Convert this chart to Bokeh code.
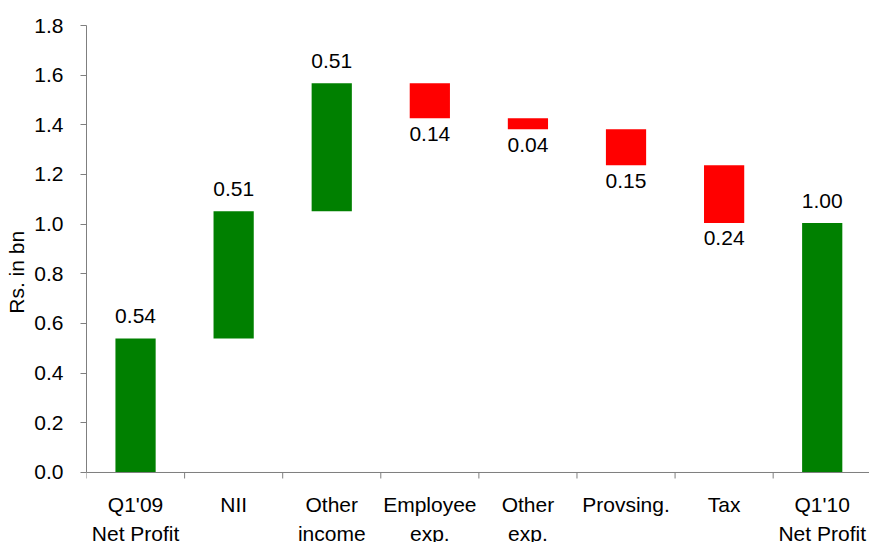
from bokeh.plotting import figure
from bokeh.models import Range1d, FixedTicker, PrintfTickFormatter, ColumnDataSource, LinearAxis
from bokeh.core.properties import value
from bokeh.embed import file_html
from bokeh.resources import INLINE

# ---- data ----
cat_line1 = ["Q1'09", "NII", "Other", "Employee", "Other", "Provsing.", "Tax", "Q1'10"]
cat_line2 = ["Net Profit", "", "income", "exp.", "exp.", "", "", "Net Profit"]
start_value = 0.54
changes = [0.512, 0.515, -0.14, -0.045, -0.145, -0.232]
final_value = 1.005
value_labels = ["0.54", "0.51", "0.51", "0.14", "0.04", "0.15", "0.24", "1.00"]
y_ticks = [0.0, 0.2, 0.4, 0.6, 0.8, 1.0, 1.2, 1.4, 1.6, 1.8]
y_title = "Rs. in bn"

GREEN = "#008000"
RED = "#FF0000"
AXIS = "#7f7f7f"
FONT = "Liberation Sans"
FS = "21px"

# ---- waterfall geometry from data ----
UP_OFF = 0.089     # label centre above a rising bar
DOWN_OFF = 0.062   # label centre below a falling bar
xs, bottoms, tops, colors, lab_y = [], [], [], [], []
xs.append(0.5); bottoms.append(0.0); tops.append(start_value); colors.append(GREEN)
lab_y.append(start_value + UP_OFF)
run = start_value
for i, c in enumerate(changes):
    nb, nt = (run, run + c) if c >= 0 else (run + c, run)
    xs.append(i + 1.5); bottoms.append(nb); tops.append(nt)
    if c >= 0:
        colors.append(GREEN); lab_y.append(nt + UP_OFF)
    else:
        colors.append(RED); lab_y.append(nb - DOWN_OFF)
    run += c
xs.append(len(changes) + 1.5); bottoms.append(0.0); tops.append(final_value); colors.append(GREEN)
lab_y.append(final_value + UP_OFF)

src = ColumnDataSource(dict(x=xs, bottom=bottoms, top=tops, color=colors,
                            ly=lab_y, lab=value_labels))

n = len(cat_line1)
cat_src = ColumnDataSource(dict(x=[i + 0.5 for i in range(n)], l1=cat_line1, l2=cat_line2,
                                y1=[-0.129] * n, y2=[-0.2437] * n))
tick_src = ColumnDataSource(dict(x=list(range(n + 1)), y0=[0.0] * (n + 1),
                                 y1=[-6 / 248.3] * (n + 1)))

p = figure(width=869, height=542, output_backend="svg", toolbar_location=None,
           x_range=Range1d(0, 7.982), y_range=Range1d(-0.2819, 1.8),
           x_axis_location=None,
           min_border_left=86, min_border_right=0, min_border_top=25, min_border_bottom=0)
p.outline_line_color = None
p.xgrid.visible = False
p.ygrid.visible = False
p.background_fill_color = "white"
p.border_fill_color = "white"

p.vbar(x="x", width=0.41, bottom="bottom", top="top", fill_color="color",
       line_color=None, source=src)
p.text(x="x", y="ly", text="lab", source=src, text_align="center",
       text_baseline="middle", text_font=value(FONT), text_font_size=FS,
       text_color="#000000")

# x axis line and boundary tick marks
p.segment(x0=0, y0=0, x1=n, y1=0, line_color=AXIS, line_width=1)
p.segment(x0="x", y0="y0", x1="x", y1="y1", source=tick_src, line_color=AXIS, line_width=1)

# category labels (two lines)
for col_t, col_y in (("l1", "y1"), ("l2", "y2")):
    p.text(x="x", y=col_y, text=col_t, source=cat_src, text_align="center",
           text_baseline="middle", text_font=value(FONT), text_font_size=FS,
           text_color="#000000")

# y axis
ya = p.yaxis[0]
ya.bounds = (0, 1.8)
ya.ticker = FixedTicker(ticks=y_ticks)
ya.formatter = PrintfTickFormatter(format="%.1f")
ya.axis_line_color = AXIS
ya.major_tick_line_color = AXIS
ya.major_tick_out = 6
ya.major_tick_in = 0
ya.minor_tick_line_color = None
ya.major_label_text_font = FONT
ya.major_label_text_font_size = FS
ya.major_label_text_color = "#000000"
ya.major_label_standoff = 17

# y axis title on an extra axis (leading no-break spaces lift it slightly)
ta = LinearAxis(ticker=FixedTicker(ticks=[]),
                axis_label="\u00a0" * 4 + y_title, axis_line_color=None,
                major_tick_line_color=None, minor_tick_line_color=None,
                axis_label_text_font=FONT, axis_label_text_font_size=FS,
                axis_label_text_font_style="normal", axis_label_text_color="#000000",
                axis_label_standoff=4)
p.add_layout(ta, "left")

open("out.html", "w").write(file_html(p, INLINE))
